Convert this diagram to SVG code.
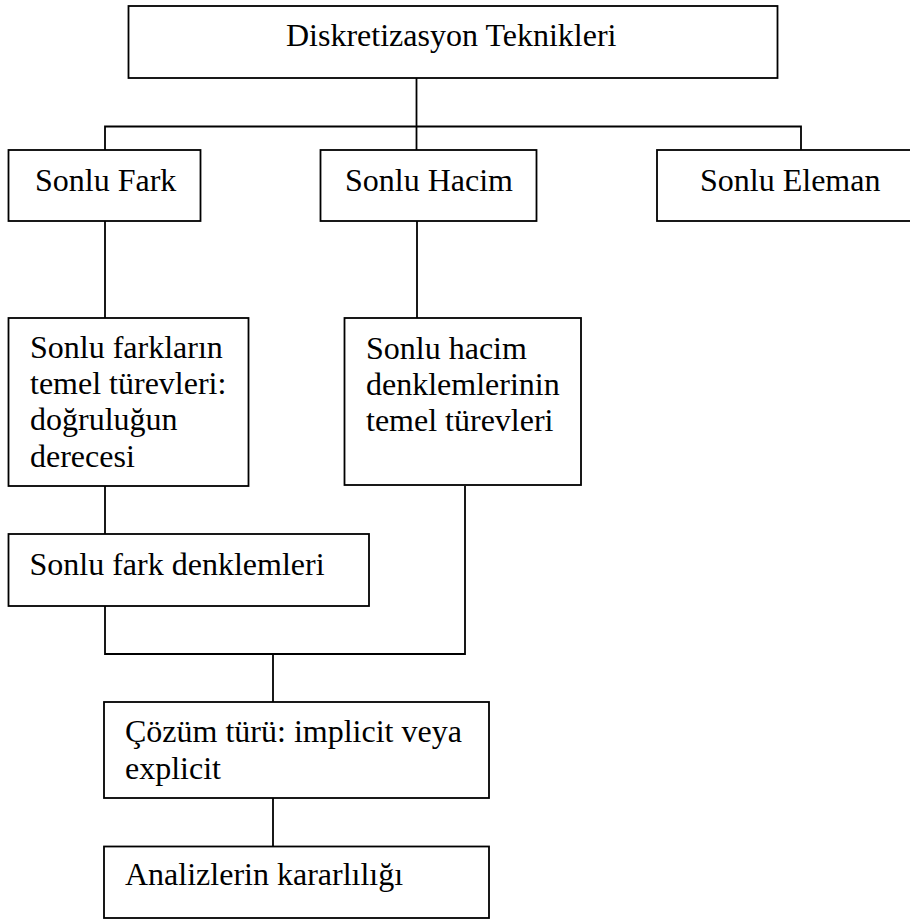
<svg xmlns="http://www.w3.org/2000/svg" width="910" height="920" viewBox="0 0 910 920">
<style>
.box{fill:#fff;stroke:#000;stroke-width:1.8}
.ln{fill:none;stroke:#000;stroke-width:1.8}
text{font-family:"Liberation Serif","Times New Roman",serif;font-size:32px;fill:#000}
</style>
<rect width="910" height="920" fill="#fff"/>
<g id="connectors">
<line class="ln" x1="416.5" y1="78" x2="416.5" y2="126.5"/>
<polyline class="ln" points="105,150 105,126.5 801,126.5 801,150"/>
<line class="ln" x1="416.5" y1="126.5" x2="416.5" y2="150"/>
<line class="ln" x1="105" y1="221" x2="105" y2="318"/>
<line class="ln" x1="417" y1="221" x2="417" y2="318"/>
<line class="ln" x1="105" y1="486" x2="105" y2="534"/>
<polyline class="ln" points="105,606 105,654 465,654 465,486"/>
<line class="ln" x1="273" y1="654" x2="273" y2="702"/>
<line class="ln" x1="273" y1="798" x2="273" y2="846"/>
</g>
<g id="n_top">
<rect class="box" x="128.5" y="6" width="649" height="72"/>
<text x="286" y="46">Diskretizasyon Teknikleri</text>
</g>
<g id="n_fark">
<rect class="box" x="8.5" y="150" width="192" height="71"/>
<text x="35" y="191">Sonlu Fark</text>
</g>
<g id="n_hacim">
<rect class="box" x="320.5" y="150" width="216" height="71"/>
<text x="345" y="191">Sonlu Hacim</text>
</g>
<g id="n_eleman">
<rect class="box" x="657" y="150" width="260" height="71"/>
<text x="700" y="191">Sonlu Eleman</text>
</g>
<g id="n_farklarin">
<rect class="box" x="8.5" y="318" width="240" height="168"/>
<text x="30" y="358">Sonlu farkların</text>
<text x="30" y="394">temel türevleri:</text>
<text x="30" y="430">doğruluğun</text>
<text x="30" y="466.5">derecesi</text>
</g>
<g id="n_hacimden">
<rect class="box" x="344.5" y="318" width="236.5" height="167"/>
<text x="366" y="359">Sonlu hacim</text>
<text x="366" y="395">denklemlerinin</text>
<text x="366" y="431">temel türevleri</text>
</g>
<g id="n_farkden">
<rect class="box" x="8.5" y="534" width="360.5" height="72"/>
<text x="29.5" y="575">Sonlu fark denklemleri</text>
</g>
<g id="n_cozum">
<rect class="box" x="104" y="702" width="385" height="96"/>
<text x="125" y="742">Çözüm türü: implicit veya</text>
<text x="125" y="779">explicit</text>
</g>
<g id="n_analiz">
<rect class="box" x="104" y="846.5" width="385" height="71.5"/>
<text x="125" y="885">Analizlerin kararlılığı</text>
</g>
</svg>
